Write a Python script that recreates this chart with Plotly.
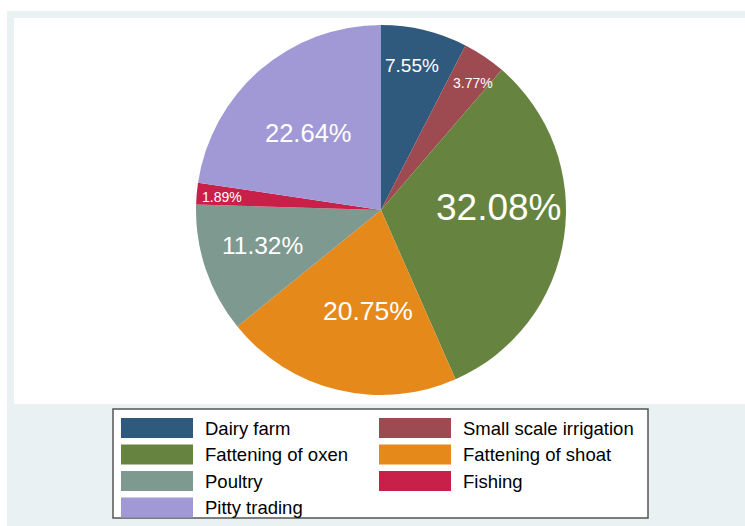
import math
import plotly.graph_objects as go

# ---- data ----
categories = ["Dairy farm", "Small scale irrigation", "Fattening of oxen",
              "Fattening of shoat", "Poultry", "Fishing", "Pitty trading"]
percents = [7.55, 3.77, 32.08, 20.75, 11.32, 1.89, 22.64]
labels_text = ["7.55%", "3.77%", "32.08%", "20.75%", "11.32%", "1.89%", "22.64%"]

# ---- style ----
colors = ["#2F597D", "#9D4A50", "#66843F", "#E6891B", "#7E998F", "#C82049", "#A099D6"]
label_sizes = [19, 14, 37, 26.5, 24.5, 14, 25.5]
label_rfrac = [0.80, 0.85, 0.64, 0.55, 0.67, 0.86, 0.57]
label_dtheta = [-1.6, 2.0, -9.5, -6.2, 1.9, -0.5, -2.7]
legend_order = [0, 1, 2, 3, 4, 5, 6]  # two columns, row-major

W, H = 745, 526
CX, CY, R = 381, 210, 185
FONT = "Liberation Sans, Arial, sans-serif"


def px(x):
    return x / W


def py(y):
    return 1 - y / H


fig = go.Figure()
fig.add_trace(go.Pie(
    labels=categories,
    values=percents,
    sort=False,
    direction="clockwise",
    rotation=0,
    marker=dict(colors=colors, line=dict(width=0)),
    textinfo="none",
    hoverinfo="label+percent",
    showlegend=False,
    domain=dict(x=[px(CX - R), px(CX + R)], y=[py(CY + R), py(CY - R)]),
))

shapes = [
    dict(type="rect", xref="paper", yref="paper", x0=px(7), x1=px(W), y0=py(H), y1=py(11),
         fillcolor="#EAF1F3", line=dict(width=0), layer="below"),
    dict(type="rect", xref="paper", yref="paper", x0=px(14), x1=px(W), y0=py(404), y1=py(18),
         fillcolor="#FFFFFF", line=dict(width=0), layer="below"),
    dict(type="rect", xref="paper", yref="paper", x0=px(113), x1=px(648), y0=py(518), y1=py(409),
         fillcolor="#FFFFFF", line=dict(color="#555555", width=1.5), layer="below"),
]
annotations = []

# slice labels, angles derived from the data
cum = 0.0
for i, v in enumerate(percents):
    mid = (cum + v / 2) / 100 * 360 + label_dtheta[i]
    cum += v
    th = math.radians(mid)
    x = CX + label_rfrac[i] * R * math.sin(th)
    y = CY - label_rfrac[i] * R * math.cos(th)
    annotations.append(dict(
        x=px(x), y=py(y), xref="paper", yref="paper", text=labels_text[i],
        showarrow=False, xanchor="center", yanchor="middle",
        font=dict(family=FONT, size=label_sizes[i], color="white"),
    ))

# legend built from categories/colors
col_sw_x = [121, 379]
col_tx_x = [203, 461]
row_y = [428, 454.5, 481, 507.5]
for k, idx in enumerate(legend_order):
    r, c = divmod(k, 2)
    yc = row_y[r]
    shapes.append(dict(type="rect", xref="paper", yref="paper",
                       x0=px(col_sw_x[c]), x1=px(col_sw_x[c] + 72),
                       y0=py(yc + 10), y1=py(yc - 10),
                       fillcolor=colors[idx], line=dict(width=0)))
    annotations.append(dict(
        x=px(col_tx_x[c]), y=py(yc), xref="paper", yref="paper", text=categories[idx],
        showarrow=False, xanchor="left", yanchor="middle",
        font=dict(family=FONT, size=18.5, color="black"),
    ))

fig.update_layout(
    width=W, height=H,
    margin=dict(l=0, r=0, t=0, b=0),
    paper_bgcolor="white",
    plot_bgcolor="white",
    shapes=shapes,
    annotations=annotations,
)

fig.write_html("out.html")
